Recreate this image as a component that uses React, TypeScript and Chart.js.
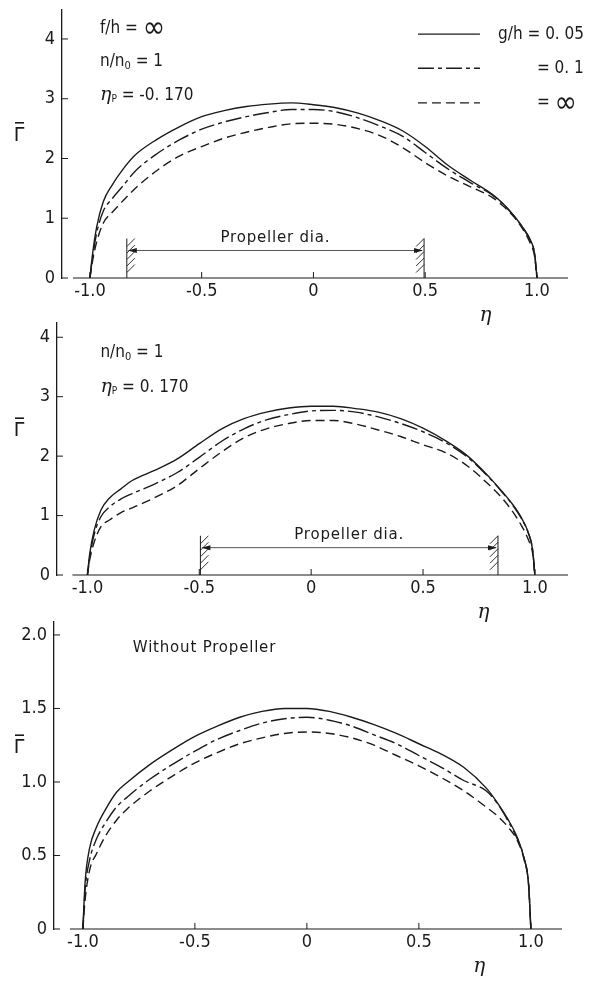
import React, { useEffect, useRef } from 'react';
import { Chart, registerables } from 'chart.js';

Chart.register(...registerables);

// ---------- data ----------
const ETA = [-1, -0.99, -0.97, -0.94, -0.9, -0.85, -0.8, -0.7, -0.6, -0.5, -0.4, -0.3, -0.2, -0.1, 0, 0.1, 0.2, 0.3, 0.4, 0.5, 0.6, 0.7, 0.8, 0.85, 0.9, 0.94, 0.97, 0.99, 1];

const SERIES_LABELS = ['g/h=0.05', 'g/h=0.1', 'g/h=∞'];

// Panel 1: f/h=∞, n/n0=1, ηP=-0.170
const P1_G005 = [0, 0.35, 0.85, 1.28, 1.56, 1.83, 2.05, 2.32, 2.53, 2.70, 2.80, 2.87, 2.91, 2.93, 2.90, 2.85, 2.76, 2.63, 2.46, 2.20, 1.89, 1.64, 1.40, 1.24, 1.03, 0.83, 0.64, 0.40, 0];
const P1_G01 = [0, 0.30, 0.75, 1.12, 1.33, 1.55, 1.78, 2.08, 2.31, 2.49, 2.61, 2.70, 2.77, 2.82, 2.82, 2.78, 2.68, 2.54, 2.37, 2.10, 1.83, 1.60, 1.39, 1.23, 1.02, 0.82, 0.63, 0.39, 0];
const P1_GINF = [0, 0.25, 0.60, 0.92, 1.10, 1.30, 1.49, 1.80, 2.04, 2.20, 2.34, 2.44, 2.52, 2.58, 2.59, 2.57, 2.50, 2.38, 2.18, 1.93, 1.71, 1.53, 1.35, 1.20, 1.01, 0.80, 0.58, 0.35, 0];

// Panel 2: n/n0=1, ηP=0.170
const P2_G005 = [0, 0.35, 0.75, 1.09, 1.30, 1.45, 1.59, 1.76, 1.95, 2.21, 2.46, 2.63, 2.74, 2.81, 2.84, 2.84, 2.80, 2.74, 2.63, 2.47, 2.26, 2.00, 1.63, 1.42, 1.19, 0.96, 0.72, 0.42, 0];
const P2_G01 = [0, 0.30, 0.68, 0.98, 1.15, 1.28, 1.37, 1.53, 1.72, 1.98, 2.25, 2.46, 2.61, 2.70, 2.76, 2.77, 2.74, 2.66, 2.55, 2.41, 2.23, 1.98, 1.62, 1.41, 1.18, 0.95, 0.71, 0.42, 0];
const P2_GINF = [0, 0.25, 0.55, 0.81, 0.93, 1.05, 1.13, 1.30, 1.50, 1.79, 2.07, 2.31, 2.46, 2.55, 2.60, 2.60, 2.54, 2.44, 2.33, 2.19, 2.06, 1.83, 1.50, 1.31, 1.07, 0.83, 0.60, 0.36, 0];

// Panel 3: without propeller
const P3_G005 = [0, 0.32, 0.55, 0.69, 0.81, 0.93, 1.00, 1.12, 1.22, 1.31, 1.38, 1.44, 1.48, 1.50, 1.50, 1.48, 1.44, 1.39, 1.33, 1.26, 1.19, 1.10, 0.96, 0.86, 0.74, 0.62, 0.48, 0.30, 0];
const P3_G01 = [0, 0.27, 0.47, 0.61, 0.72, 0.83, 0.90, 1.02, 1.12, 1.21, 1.29, 1.35, 1.40, 1.43, 1.44, 1.42, 1.38, 1.32, 1.26, 1.18, 1.10, 1.01, 0.94, 0.855, 0.73, 0.61, 0.48, 0.30, 0];
const P3_GINF = [0, 0.20, 0.40, 0.51, 0.63, 0.74, 0.82, 0.94, 1.04, 1.13, 1.20, 1.26, 1.30, 1.33, 1.34, 1.33, 1.30, 1.25, 1.18, 1.11, 1.03, 0.94, 0.83, 0.77, 0.69, 0.60, 0.47, 0.30, 0];

const X_TICKS = [-1, -0.5, 0, 0.5, 1];
const X_TICK_LABELS = ['-1.0', '-0.5', '0', '0.5', '1.0'];
const Y_TICKS_A = [0, 1, 2, 3, 4];
const Y_TICK_LABELS_A = ['0', '1', '2', '3', '4'];
const Y_TICKS_B = [0, 0.5, 1, 1.5, 2];
const Y_TICK_LABELS_B = ['0', '0.5', '1.0', '1.5', '2.0'];

const PROP_CENTERS = [-0.17, 0.17];
const PROP_HALF_SPAN = 0.665;

const LEGEND_TEXTS = ['g/h = 0. 05', '= 0. 1', '= '];
const PROP_LABEL = 'Propeller dia.';
const NO_PROP_LABEL = 'Without Propeller';

// ---------- styles ----------
const FONT = '"DejaVu Sans Condensed", "Liberation Sans Narrow", "DejaVu Sans", sans-serif';
const SANS = '"DejaVu Sans", "Liberation Sans", sans-serif';
const SERIF = '"DejaVu Serif", "Liberation Serif", serif';
const INK = '#1b1b1b';
const DASHES: number[][] = [[], [16, 4, 4, 4], [9, 5]];

type Part = { t: string; font: string; dy?: number };

function drawParts(ctx: CanvasRenderingContext2D, parts: Part[], x: number, y: number) {
  let cx = x;
  for (const p of parts) {
    ctx.font = p.font;
    ctx.fillText(p.t, cx, y + (p.dy || 0));
    cx += ctx.measureText(p.t).width;
  }
}

const f = (size: number) => `${size}px ${FONT}`;
const etaFont = (size: number) => `italic ${size}px ${SERIF}`;

const PANELS = [
  {
    top: 0, height: 330, chartTop: 10, chartBottom: 278, left: 62, right: 568,
    xMin: -1.125, xMax: 1.139, yMax: 4.485, axisStart: -1.076,
    yTicks: Y_TICKS_A, yTickLabels: Y_TICK_LABELS_A, gammaY: 2.43,
    series: [P1_G005, P1_G01, P1_GINF],
    prop: PROP_CENTERS[0],
    annotations: [
      { x: -0.955, y: 4.18, parts: [{ t: 'f/h = ', font: f(17) }, { t: '∞', font: f(30), dy: 1 }] },
      { x: -0.955, y: 3.62, parts: [{ t: 'n/n', font: f(17) }, { t: '0', font: f(11), dy: 4 }, { t: ' = 1', font: f(17) }] },
      { x: -0.955, y: 3.06, parts: [{ t: 'η', font: etaFont(19) }, { t: 'P', font: f(10), dy: 4 }, { t: ' = -0. 170', font: f(17) }] },
    ],
    legend: true,
  },
  {
    top: 312, height: 318, chartTop: 11, chartBottom: 263, left: 57, right: 568,
    xMin: -1.136, xMax: 1.148, yMax: 4.24, axisStart: -1.067,
    yTicks: Y_TICKS_A, yTickLabels: Y_TICK_LABELS_A, gammaY: 2.47,
    series: [P2_G005, P2_G01, P2_GINF],
    prop: PROP_CENTERS[1],
    annotations: [
      { x: -0.942, y: 3.74, parts: [{ t: 'n/n', font: f(17) }, { t: '0', font: f(11), dy: 4 }, { t: ' = 1', font: f(17) }] },
      { x: -0.942, y: 3.16, parts: [{ t: 'η', font: etaFont(19) }, { t: 'P', font: f(10), dy: 4 }, { t: ' = 0. 170', font: f(17) }] },
    ],
    legend: false,
  },
  {
    top: 611, height: 370, chartTop: 11, chartBottom: 318, left: 54, right: 562,
    xMin: -1.129, xMax: 1.139, yMax: 2.088, axisStart: -1.058,
    yTicks: Y_TICKS_B, yTickLabels: Y_TICK_LABELS_B, gammaY: 1.25,
    series: [P3_G005, P3_G01, P3_GINF],
    prop: null as number | null,
    annotations: [] as { x: number; y: number; parts: Part[] }[],
    noProp: { x: -0.777, y: 1.91 },
    legend: false,
  },
];

type PanelCfg = (typeof PANELS)[number] & { noProp?: { x: number; y: number } };

function makeDecor(cfg: PanelCfg) {
  return {
    id: 'decor',
    afterDraw(chart: any) {
      const ctx: CanvasRenderingContext2D = chart.ctx;
      const xs = chart.scales.x;
      const ys = chart.scales.y;
      const area = chart.chartArea;
      const X = (v: number) => xs.getPixelForValue(v);
      const Y = (v: number) => ys.getPixelForValue(v);
      ctx.save();
      ctx.strokeStyle = INK;
      ctx.fillStyle = INK;
      ctx.lineWidth = 1.2;
      ctx.setLineDash([]);

      // x axis line (starts a little right of the y axis)
      ctx.beginPath();
      ctx.moveTo(X(cfg.axisStart), area.bottom);
      ctx.lineTo(area.right, area.bottom);
      ctx.stroke();

      // inward ticks
      ctx.lineWidth = 1;
      for (const v of X_TICKS) {
        ctx.beginPath();
        ctx.moveTo(X(v), area.bottom);
        ctx.lineTo(X(v), area.bottom - 6);
        ctx.stroke();
      }
      for (const v of cfg.yTicks) {
        ctx.beginPath();
        ctx.moveTo(area.left, Y(v));
        ctx.lineTo(area.left + 6, Y(v));
        ctx.stroke();
      }

      ctx.textBaseline = 'middle';
      ctx.textAlign = 'left';

      // y title: Γ with an overbar
      {
        const gy = Y(cfg.gammaY);
        ctx.save();
        ctx.font = `19px ${SANS}`;
        ctx.textAlign = 'center';
        ctx.textBaseline = 'alphabetic';
        ctx.fillText('Γ', 19, gy + 8);
        ctx.lineWidth = 1.6;
        ctx.beginPath();
        ctx.moveTo(15, gy - 10);
        ctx.lineTo(24, gy - 10);
        ctx.stroke();
        ctx.restore();
      }

      // x title η
      ctx.save();
      ctx.font = etaFont(20);
      ctx.textAlign = 'center';
      ctx.fillText('η', X(0.77), area.bottom + 38);
      ctx.restore();

      // annotations
      for (const a of cfg.annotations) drawParts(ctx, a.parts, X(a.x), Y(a.y));

      if (cfg.noProp) {
        ctx.save();
        ctx.font = `15px ${SANS}`;
        (ctx as any).letterSpacing = '0.8px';
        ctx.fillText(NO_PROP_LABEL, X(cfg.noProp.x), Y(cfg.noProp.y));
        ctx.restore();
      }

      // propeller diameter marker
      if (cfg.prop !== null && cfg.prop !== undefined) {
        const xl = X(cfg.prop - PROP_HALF_SPAN);
        const xr = X(cfg.prop + PROP_HALF_SPAN);
        const yb = area.bottom;
        const yt = Y(0.66);
        const ya = Y(0.46);
        ctx.lineWidth = 1;
        ctx.strokeStyle = INK;
        ctx.beginPath();
        ctx.moveTo(xl, yb); ctx.lineTo(xl, yt);
        ctx.moveTo(xr, yb); ctx.lineTo(xr, yt);
        ctx.stroke();
        ctx.lineWidth = 0.9;
        ctx.beginPath();
        for (let y0 = yt + 8; y0 <= yb + 0.5; y0 += 6.5) {
          ctx.moveTo(xl, y0); ctx.lineTo(xl + 8, y0 - 8);
          ctx.moveTo(xr - 8, y0); ctx.lineTo(xr, y0 - 8);
        }
        ctx.stroke();
        // arrow
        ctx.strokeStyle = '#555';
        ctx.lineWidth = 1;
        ctx.beginPath();
        ctx.moveTo(xl + 2, ya); ctx.lineTo(xr - 2, ya);
        ctx.stroke();
        ctx.fillStyle = INK;
        ctx.beginPath();
        ctx.moveTo(xl + 1, ya); ctx.lineTo(xl + 10, ya - 2.5); ctx.lineTo(xl + 10, ya + 2.5); ctx.closePath();
        ctx.moveTo(xr - 1, ya); ctx.lineTo(xr - 10, ya - 2.5); ctx.lineTo(xr - 10, ya + 2.5); ctx.closePath();
        ctx.fill();
        // label
        ctx.save();
        ctx.font = `15px ${SANS}`;
        (ctx as any).letterSpacing = '0.8px';
        ctx.textAlign = 'center';
        ctx.textBaseline = 'alphabetic';
        ctx.fillText(PROP_LABEL, X(cfg.prop), Y(0.6));
        ctx.restore();
      }

      // legend
      if (cfg.legend) {
        const lx1 = X(0.4676);
        const lx2 = X(0.745);
        const rows = [4.08, 3.51, 2.93];
        rows.forEach((rv, i) => {
          const y = Y(rv);
          ctx.save();
          ctx.strokeStyle = INK;
          ctx.lineWidth = 1.3;
          ctx.setLineDash(DASHES[i]);
          ctx.beginPath();
          ctx.moveTo(lx1, y); ctx.lineTo(lx2, y);
          ctx.stroke();
          ctx.restore();
        });
        drawParts(ctx, [{ t: LEGEND_TEXTS[0], font: f(17) }], X(0.826), Y(rows[0]));
        drawParts(ctx, [{ t: LEGEND_TEXTS[1], font: f(17) }], X(1.0), Y(rows[1]));
        drawParts(ctx, [{ t: LEGEND_TEXTS[2], font: f(17) }, { t: '∞', font: f(30), dy: 1 }], X(1.0), Y(rows[2]));
      }
      ctx.restore();
    },
  };
}

function zeroPad(s: any) {
  s.paddingTop = 0;
  s.paddingBottom = 0;
  s.paddingLeft = 0;
  s.paddingRight = 0;
}

function Panel({ cfg }: { cfg: PanelCfg }) {
  const ref = useRef<HTMLCanvasElement>(null);
  useEffect(() => {
    if (!ref.current) return;
    const tickFont = { family: FONT, size: 18 };
    const chart = new Chart(ref.current, {
      type: 'line',
      data: {
        datasets: cfg.series.map((ys, i) => ({
          label: SERIES_LABELS[i],
          data: ETA.map((x, j) => ({ x, y: ys[j] })),
          borderColor: INK,
          borderWidth: 1.4,
          borderDash: DASHES[i],
          pointRadius: 0,
          fill: false,
          cubicInterpolationMode: 'monotone' as const,
        })),
      },
      options: {
        responsive: false,
        maintainAspectRatio: false,
        animation: false,
        devicePixelRatio: 1,
        layout: { padding: { top: cfg.chartTop, right: 595 - cfg.right, left: 0, bottom: 0 } },
        plugins: { legend: { display: false }, tooltip: { enabled: false } },
        scales: {
          x: {
            type: 'linear',
            min: cfg.xMin,
            max: cfg.xMax,
            grid: { display: false, drawTicks: false },
            border: { display: false },
            ticks: {
              padding: 3,
              color: INK,
              font: tickFont,
              maxRotation: 0,
              autoSkip: false,
              callback: (_v: any, i: number) => X_TICK_LABELS[i],
            },
            afterBuildTicks: (s: any) => { s.ticks = X_TICKS.map((v) => ({ value: v })); },
            afterFit: (s: any) => { s.height = cfg.height - cfg.chartBottom; zeroPad(s); },
          },
          y: {
            type: 'linear',
            min: 0,
            max: cfg.yMax,
            grid: { display: false, drawTicks: false },
            border: { display: true, color: INK, width: 1.3 },
            ticks: {
              padding: 7,
              color: INK,
              font: tickFont,
              autoSkip: false,
              callback: (_v: any, i: number) => cfg.yTickLabels[i],
            },
            afterBuildTicks: (s: any) => { s.ticks = cfg.yTicks.map((v) => ({ value: v })); },
            afterFit: (s: any) => { s.width = cfg.left; zeroPad(s); },
          },
        },
      } as any,
      plugins: [makeDecor(cfg)],
    });
    return () => chart.destroy();
  }, [cfg]);
  return (
    <canvas
      ref={ref}
      width={595}
      height={cfg.height}
      style={{ position: 'absolute', left: 0, top: cfg.top, width: 595, height: cfg.height }}
    />
  );
}

export default function App() {
  return (
    <div style={{ position: 'absolute', left: 0, top: 0, width: 595, height: 981, background: '#fff', overflow: 'hidden' }}>
      {PANELS.map((p, i) => (
        <Panel key={i} cfg={p as PanelCfg} />
      ))}
    </div>
  );
}
